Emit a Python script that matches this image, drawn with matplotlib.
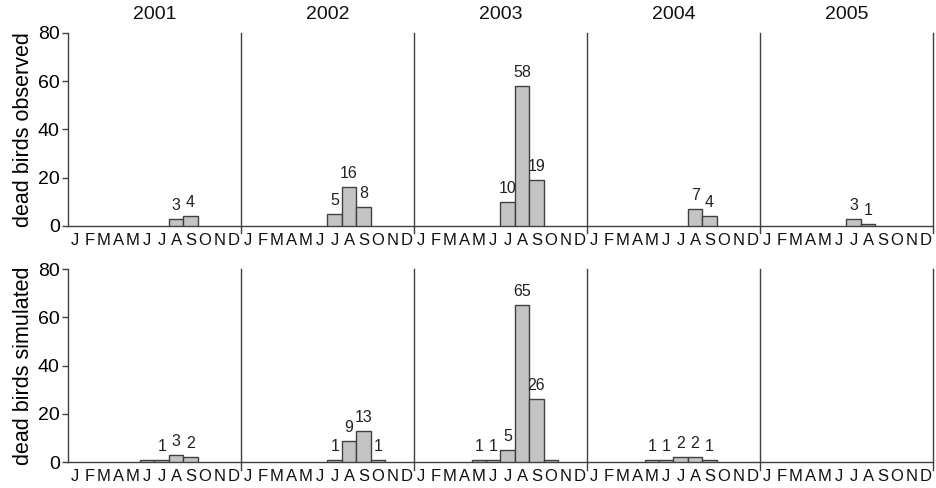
import numpy as np
import matplotlib.pyplot as plt

plt.rcParams['font.family'] = ['Liberation Sans', 'DejaVu Sans']

years = ["2001", "2002", "2003", "2004", "2005"]
month_letters = ["J", "F", "M", "A", "M", "J", "J", "A", "S", "O", "N", "D"]

# monthly counts per year, Jan..Dec
observed = [
    [0, 0, 0, 0, 0, 0, 0, 3, 4, 0, 0, 0],
    [0, 0, 0, 0, 0, 0, 5, 16, 8, 0, 0, 0],
    [0, 0, 0, 0, 0, 0, 10, 58, 19, 0, 0, 0],
    [0, 0, 0, 0, 0, 0, 0, 7, 4, 0, 0, 0],
    [0, 0, 0, 0, 0, 0, 3, 1, 0, 0, 0, 0],
]
simulated = [
    [0, 0, 0, 0, 0, 1, 1, 3, 2, 0, 0, 0],
    [0, 0, 0, 0, 0, 0, 1, 9, 13, 1, 0, 0],
    [0, 0, 0, 0, 1, 1, 5, 65, 26, 1, 0, 0],
    [0, 0, 0, 0, 1, 1, 2, 2, 1, 0, 0, 0],
    [0, 0, 0, 0, 0, 0, 0, 0, 0, 0, 0, 0],
]
# bars whose value is not written above them (year, month)
unlabelled_sim = [(0, 5), (2, 9)]

ylabels = ["dead birds observed", "dead birds simulated"]

fig = plt.figure(figsize=(9.37, 4.88), dpi=100)
ax_top = fig.add_axes([68 / 937, 0.537, (933 - 68) / 937, 0.3955])
ax_bot = fig.add_axes([68 / 937, 0.0527, (933 - 68) / 937, 0.396])

edge = "#404040"

for ax, data, ylab, skip in [(ax_top, observed, ylabels[0], []),
                             (ax_bot, simulated, ylabels[1], unlabelled_sim)]:
    vals = np.array(data).ravel()
    x = np.arange(len(vals))
    nz = vals > 0
    ax.bar(x[nz], vals[nz], width=1, align="edge", color="#c4c4c4",
           edgecolor=edge, linewidth=1.0, zorder=3)
    for i in x[nz]:
        if (i // 12, i % 12) in skip:
            continue
        ax.text(i + 0.5, vals[i] + 2.5, str(vals[i]), ha="center", va="bottom",
                fontsize=11.5, color="#222222")

    # year separators, running a little below the baseline
    for k in range(1, len(years) + 1):
        ax.plot([12 * k, 12 * k], [-3, 80], color=edge, lw=1.0, clip_on=False)

    ax.set_xlim(0, 60)
    ax.set_ylim(0, 80)
    ax.set_yticks([0, 20, 40, 60, 80])
    ax.set_xticks(np.arange(60) + 0.5)
    ax.set_xticklabels(month_letters * len(years), fontsize=12, color="#111111")
    ax.tick_params(axis="x", length=0, pad=5)
    ax.tick_params(axis="y", length=4, width=1.0, color=edge, labelsize=14, pad=2)
    for s in ["top", "right"]:
        ax.spines[s].set_visible(False)
    for s in ["left", "bottom"]:
        ax.spines[s].set_color(edge)
        ax.spines[s].set_linewidth(1.0)
    ax.set_ylabel(ylab, fontsize=15.5, labelpad=3)

for k, yr in enumerate(years):
    ax_top.text(12 * k + 6, 84, yr, ha="center", va="bottom", fontsize=14,
                color="#111111")

fig.savefig("out.png", dpi=100)
